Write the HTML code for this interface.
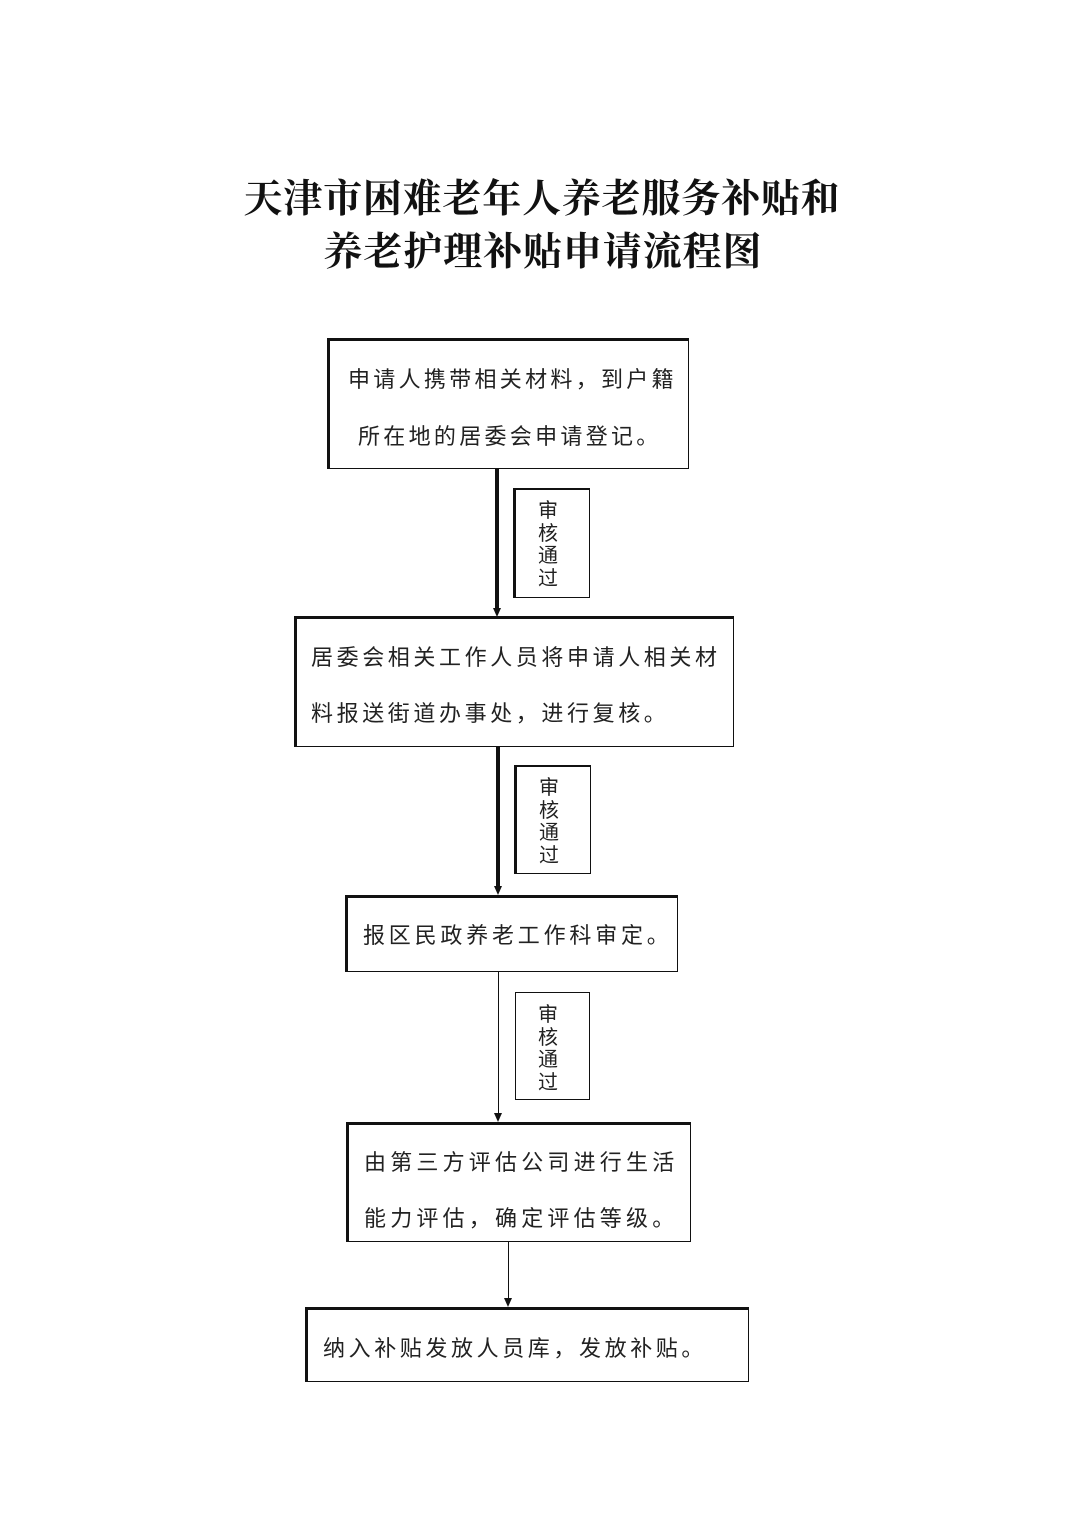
<!DOCTYPE html>
<html><head><meta charset="utf-8"><style>
body{margin:0;width:1074px;height:1520px;background:#fff;position:relative;overflow:hidden;font-family:"Liberation Serif","Noto Serif CJK SC",serif;color:#111}
.t{position:absolute;left:0;width:1074px;text-align:center;font-weight:bold;font-size:39px;line-height:44px;font-family:"Noto Serif CJK SC",serif;white-space:nowrap}
.b{position:absolute;box-sizing:border-box;border-top:3px solid #111;border-left:3px solid #111;border-right:1.5px solid #111;border-bottom:1.5px solid #111;background:#fff}
.x{position:absolute;white-space:nowrap;font-family:"Noto Sans CJK SC","WenQuanYi Zen Hei",sans-serif;font-size:22px;line-height:26px;color:#222}
.l{position:absolute;box-sizing:border-box;border:1.5px solid #111;border-top-width:2px;border-left-width:2px;background:#fff}
.lt{position:absolute;font-family:"Noto Sans CJK SC","WenQuanYi Zen Hei",sans-serif;font-size:20px;line-height:22.5px;width:24px;text-align:center;color:#222}
.v{position:absolute;background:#111}
.a{position:absolute;width:0;height:0;border-left:4px solid transparent;border-right:4px solid transparent;border-top:9px solid #111}
</style></head><body>
<div class="t" style="top:174px;left:5px;letter-spacing:0.8px">天津市困难老年人养老服务补贴和</div>
<div class="t" style="top:227px;left:6px;letter-spacing:0.9px">养老护理补贴申请流程图</div>

<div class="b" style="left:327px;top:338px;width:362px;height:131px"></div>
<div class="x" style="left:348px;top:365px;letter-spacing:3.3px">申请人携带相关材料，到户籍</div>
<div class="x" style="left:358px;top:422px;letter-spacing:3.3px">所在地的居委会申请登记。</div>

<div class="v" style="left:495px;top:468px;width:3.5px;height:142px"></div>
<div class="a" style="left:492.5px;top:608px"></div>
<div class="l" style="left:513px;top:488px;width:77px;height:110px;border-left-width:3px"></div>
<div class="lt" style="left:536px;top:498px">审核通过</div>

<div class="b" style="left:294px;top:616px;width:440px;height:131px"></div>
<div class="x" style="left:311px;top:643px;letter-spacing:3.6px">居委会相关工作人员将申请人相关材</div>
<div class="x" style="left:311px;top:699px;letter-spacing:3.6px">料报送街道办事处，进行复核。</div>

<div class="v" style="left:496px;top:746px;width:3.5px;height:142px"></div>
<div class="a" style="left:493.5px;top:886px"></div>
<div class="l" style="left:514px;top:765px;width:77px;height:109px;border-left-width:3px"></div>
<div class="lt" style="left:537px;top:775px">审核通过</div>

<div class="b" style="left:345px;top:895px;width:333px;height:77px"></div>
<div class="x" style="left:363px;top:921px;letter-spacing:3.8px">报区民政养老工作科审定。</div>

<div class="v" style="left:497.5px;top:971px;width:1.3px;height:145px"></div>
<div class="a" style="left:494px;top:1113px"></div>
<div class="l" style="left:515px;top:992px;width:75px;height:108px;border-width:1.5px"></div>
<div class="lt" style="left:536px;top:1002px">审核通过</div>

<div class="b" style="left:346px;top:1122px;width:345px;height:120px"></div>
<div class="x" style="left:364px;top:1148px;letter-spacing:4.2px">由第三方评估公司进行生活</div>
<div class="x" style="left:364px;top:1204px;letter-spacing:4.2px">能力评估，确定评估等级。</div>

<div class="v" style="left:507.5px;top:1241px;width:1.3px;height:60px"></div>
<div class="a" style="left:504px;top:1298px"></div>

<div class="b" style="left:305px;top:1307px;width:444px;height:75px"></div>
<div class="x" style="left:323px;top:1334px;letter-spacing:3.6px">纳入补贴发放人员库，发放补贴。</div>
</body></html>
